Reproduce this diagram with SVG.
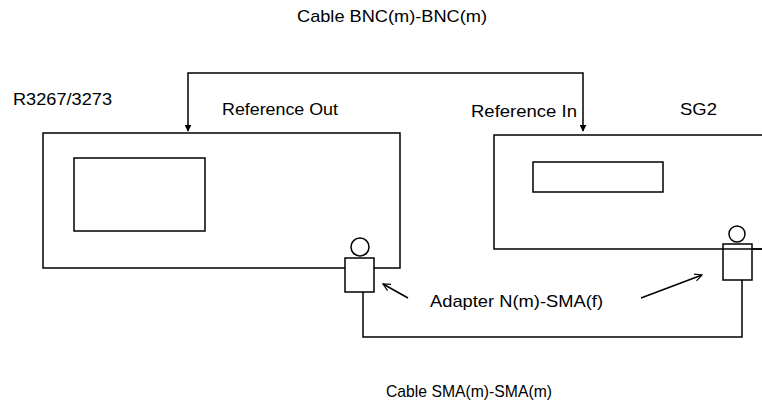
<svg xmlns="http://www.w3.org/2000/svg" width="762" height="405" viewBox="0 0 762 405">
<defs>
<style>
text{font-family:"Liberation Sans",Arial,sans-serif;font-size:17px;fill:#000}
.ln{fill:none;stroke:#000;stroke-width:1.5}
.bx{fill:#fff;stroke:#000;stroke-width:1.5}
</style>
<marker id="ah" viewBox="0 0 10 10" refX="9" refY="5" markerWidth="7" markerHeight="7" orient="auto-start-reverse" markerUnits="userSpaceOnUse">
<path d="M0,0 L10,5 L0,10 z" fill="#000"/>
</marker>
<marker id="oa" viewBox="0 0 10 10" refX="9" refY="5" markerWidth="9" markerHeight="9" orient="auto" markerUnits="userSpaceOnUse">
<path d="M1,1 L9,5 L1,9" fill="none" stroke="#000" stroke-width="1.3"/>
</marker>
</defs>
<rect width="762" height="405" fill="#fff"/>
<g id="r3267">
<rect class="bx" x="43" y="133" width="357" height="135"/>
<rect class="bx" x="74" y="158" width="131" height="73"/>
<text x="13" y="105" textLength="99" lengthAdjust="spacingAndGlyphs">R3267/3273</text>
<text x="222" y="115" textLength="116" lengthAdjust="spacingAndGlyphs">Reference Out</text>
</g>
<g id="sg2">
<path class="ln" d="M770,135 H494 V249 H770"/>
<rect class="bx" x="533" y="162" width="130" height="30"/>
<text x="471" y="117" textLength="106" lengthAdjust="spacingAndGlyphs">Reference In</text>
<text x="680" y="115" textLength="37" lengthAdjust="spacingAndGlyphs">SG2</text>
</g>
<g id="adapter1">
<rect class="bx" x="345" y="258" width="29" height="34"/>
<circle class="bx" cx="360" cy="247" r="9"/>
</g>
<g id="adapter2">
<rect class="bx" x="723" y="244" width="29" height="36"/>
<circle class="bx" cx="737" cy="234" r="8"/>
<line class="ln" x1="723" y1="249" x2="762" y2="249"/>
</g>
<g id="connectors">
<path class="ln" d="M188,131 V73 H583 V131" marker-start="url(#ah)" marker-end="url(#ah)"/>
<path class="ln" d="M363,292 V337 H742 V280"/>
<line class="ln" x1="408" y1="298" x2="383" y2="284" marker-end="url(#oa)"/>
<line class="ln" x1="641" y1="298" x2="702" y2="275" marker-end="url(#oa)"/>
</g>
<g id="labels">
<text x="297" y="22" textLength="190" lengthAdjust="spacingAndGlyphs">Cable BNC(m)-BNC(m)</text>
<text x="430" y="307" textLength="173" lengthAdjust="spacingAndGlyphs">Adapter N(m)-SMA(f)</text>
<text x="386" y="397" textLength="166" lengthAdjust="spacingAndGlyphs">Cable SMA(m)-SMA(m)</text>
</g>
</svg>
